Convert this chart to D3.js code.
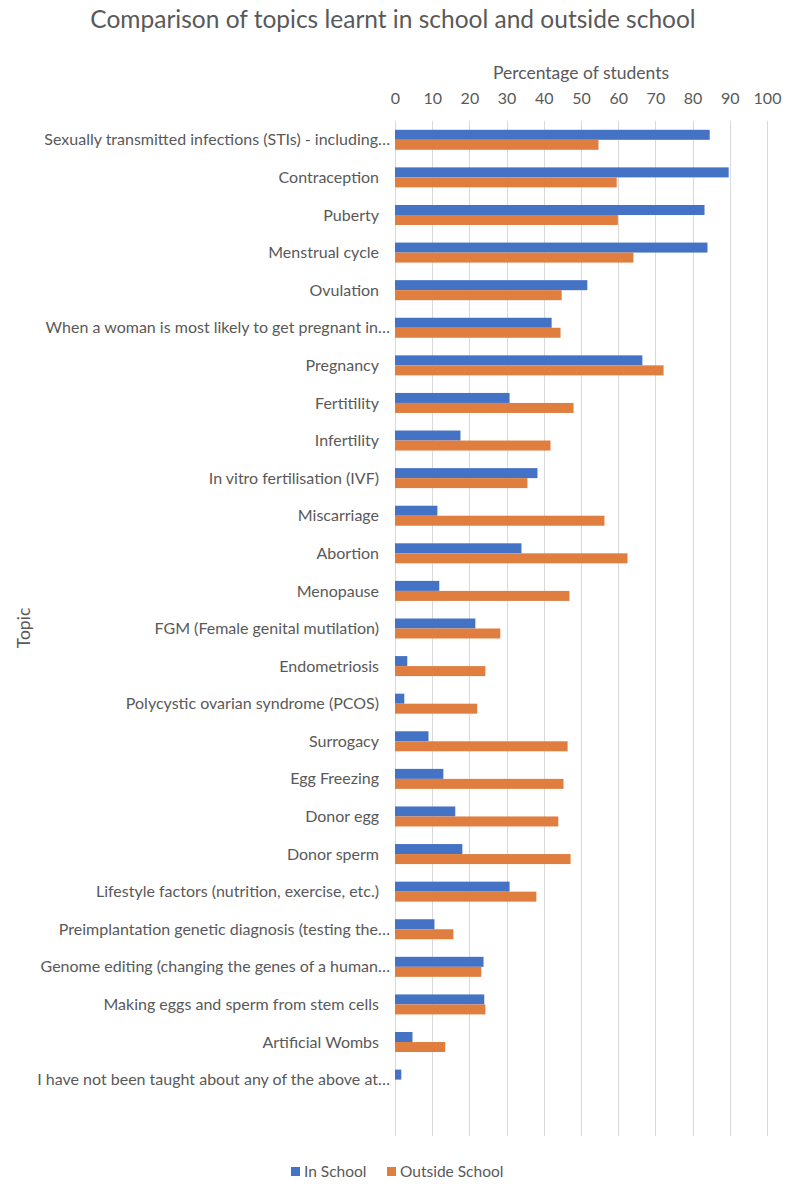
<!DOCTYPE html>
<html>
<head>
<meta charset="utf-8">
<script src="https://cdn.jsdelivr.net/npm/d3@7"></script>
<style>
	body { margin: 0; background: #fff; }
	svg text { font-family: Lato, "Open Sans", sans-serif; fill: #595959; }
</style>
</head>
<body>
<div id="chart"></div>
<script>
var topics = [
	"Sexually transmitted infections (STIs) - including…",
	"Contraception",
	"Puberty",
	"Menstrual cycle",
	"Ovulation",
	"When a woman is most likely to get pregnant in…",
	"Pregnancy",
	"Fertitility",
	"Infertility",
	"In vitro fertilisation (IVF)",
	"Miscarriage",
	"Abortion",
	"Menopause",
	"FGM (Female genital mutilation)",
	"Endometriosis",
	"Polycystic ovarian syndrome (PCOS)",
	"Surrogacy",
	"Egg Freezing",
	"Donor egg",
	"Donor sperm",
	"Lifestyle factors (nutrition, exercise, etc.)",
	"Preimplantation genetic diagnosis (testing the…",
	"Genome editing (changing the genes of a human…",
	"Making eggs and sperm from stem cells",
	"Artificial Wombs",
	"I have not been taught about any of the above at…"
];

var inSchool = [84.6, 89.7, 83.2, 84.0, 51.7, 42.1, 66.5, 30.8, 17.6, 38.3, 11.4, 34.0, 11.9,
	21.6, 3.3, 2.5, 9.0, 13.0, 16.2, 18.1, 30.8, 10.6, 23.8, 24.0, 4.7, 1.7];
var outsideSchool = [54.7, 59.6, 59.9, 64.1, 44.8, 44.5, 72.2, 48.0, 41.8, 35.6, 56.3, 62.5, 46.9,
	28.3, 24.3, 22.1, 46.4, 45.3, 43.9, 47.2, 38.0, 15.7, 23.2, 24.3, 13.5, 0];

var seriesNames = ["In School", "Outside School"];
var seriesColors = ["#4472C4", "#E07E40"];
var xTicks = [0, 10, 20, 30, 40, 50, 60, 70, 80, 90, 100];

var width = 792,
	height = 1196,
	margin = { top: 121, right: 25, bottom: 60, left: 395 },
	labelSize = "16px";

var svg = d3.select("#chart").append("svg")
	.attr("width", width)
	.attr("height", height);

// one empty slot is left at the bottom, like the original
var rows = d3.range(topics.length + 1);

var x = d3.scaleLinear()
	.domain([0, 100])
	.range([margin.left, width - margin.right]);

var y = d3.scaleBand()
	.domain(rows)
	.range([margin.top, height - margin.bottom])
	.paddingInner(0.468)
	.paddingOuter(0.234);

var ySub = d3.scaleBand()
	.domain([0, 1])
	.range([0, y.bandwidth()]);

// grid
svg.append("g")
	.selectAll("line")
	.data(xTicks)
	.join("line")
	.attr("x1", function(d) { return Math.round(x(d)) + 0.5; })
	.attr("x2", function(d) { return Math.round(x(d)) + 0.5; })
	.attr("y1", margin.top)
	.attr("y2", height - margin.bottom)
	.attr("stroke", "#d9d9d9")
	.attr("stroke-width", 1);

// top axis
var xAxis = svg.append("g")
	.attr("transform", "translate(0," + (margin.top - 14) + ")")
	.call(d3.axisTop(x).tickValues(xTicks).tickSize(0));
xAxis.select(".domain").remove();
xAxis.selectAll("text")
	.style("font-size", labelSize)
	.attr("fill", "#595959");

svg.append("text")
	.attr("x", x(50))
	.attr("y", 79)
	.attr("text-anchor", "middle")
	.style("font-size", "17.5px")
	.text("Percentage of students");

// bars
var series = [inSchool, outsideSchool];
series.forEach(function(vals, s) {
	svg.append("g")
		.selectAll("rect")
		.data(vals)
		.join("rect")
		.attr("x", x(0))
		.attr("y", function(d, i) { return y(i) + ySub(s); })
		.attr("width", function(d) { return x(d) - x(0); })
		.attr("height", ySub.bandwidth())
		.attr("fill", seriesColors[s]);
});

// category labels (excel puts the cut labels a bit further right)
svg.append("g")
	.selectAll("text")
	.data(topics)
	.join("text")
	.attr("x", function(d) { return d.slice(-1) == "…" ? 390 : 379; })
	.attr("y", function(d, i) { return y(i) + y.bandwidth() / 2; })
	.attr("dy", "0.35em")
	.attr("text-anchor", "end")
	.style("font-size", labelSize)
	.text(function(d) { return d; });

svg.append("text")
	.attr("transform", "translate(30," + 628 + ") rotate(-90)")
	.attr("text-anchor", "middle")
	.style("font-size", "17.5px")
	.text("Topic");

// title
svg.append("text")
	.attr("x", 393)
	.attr("y", 28)
	.attr("text-anchor", "middle")
	.style("font-size", "24.5px")
	.text("Comparison of topics learnt in school and outside school");

// legend
var legend = svg.append("g")
	.selectAll("g")
	.data(seriesNames)
	.join("g")
	.attr("transform", function(d, i) { return "translate(" + (i == 0 ? 291 : 387) + ",1167)"; });
legend.append("rect")
	.attr("width", 9)
	.attr("height", 9)
	.attr("fill", function(d, i) { return seriesColors[i]; });
legend.append("text")
	.attr("x", 13)
	.attr("y", 10)
	.style("font-size", "15.5px")
	.text(function(d) { return d; });
</script>
</body>
</html>
